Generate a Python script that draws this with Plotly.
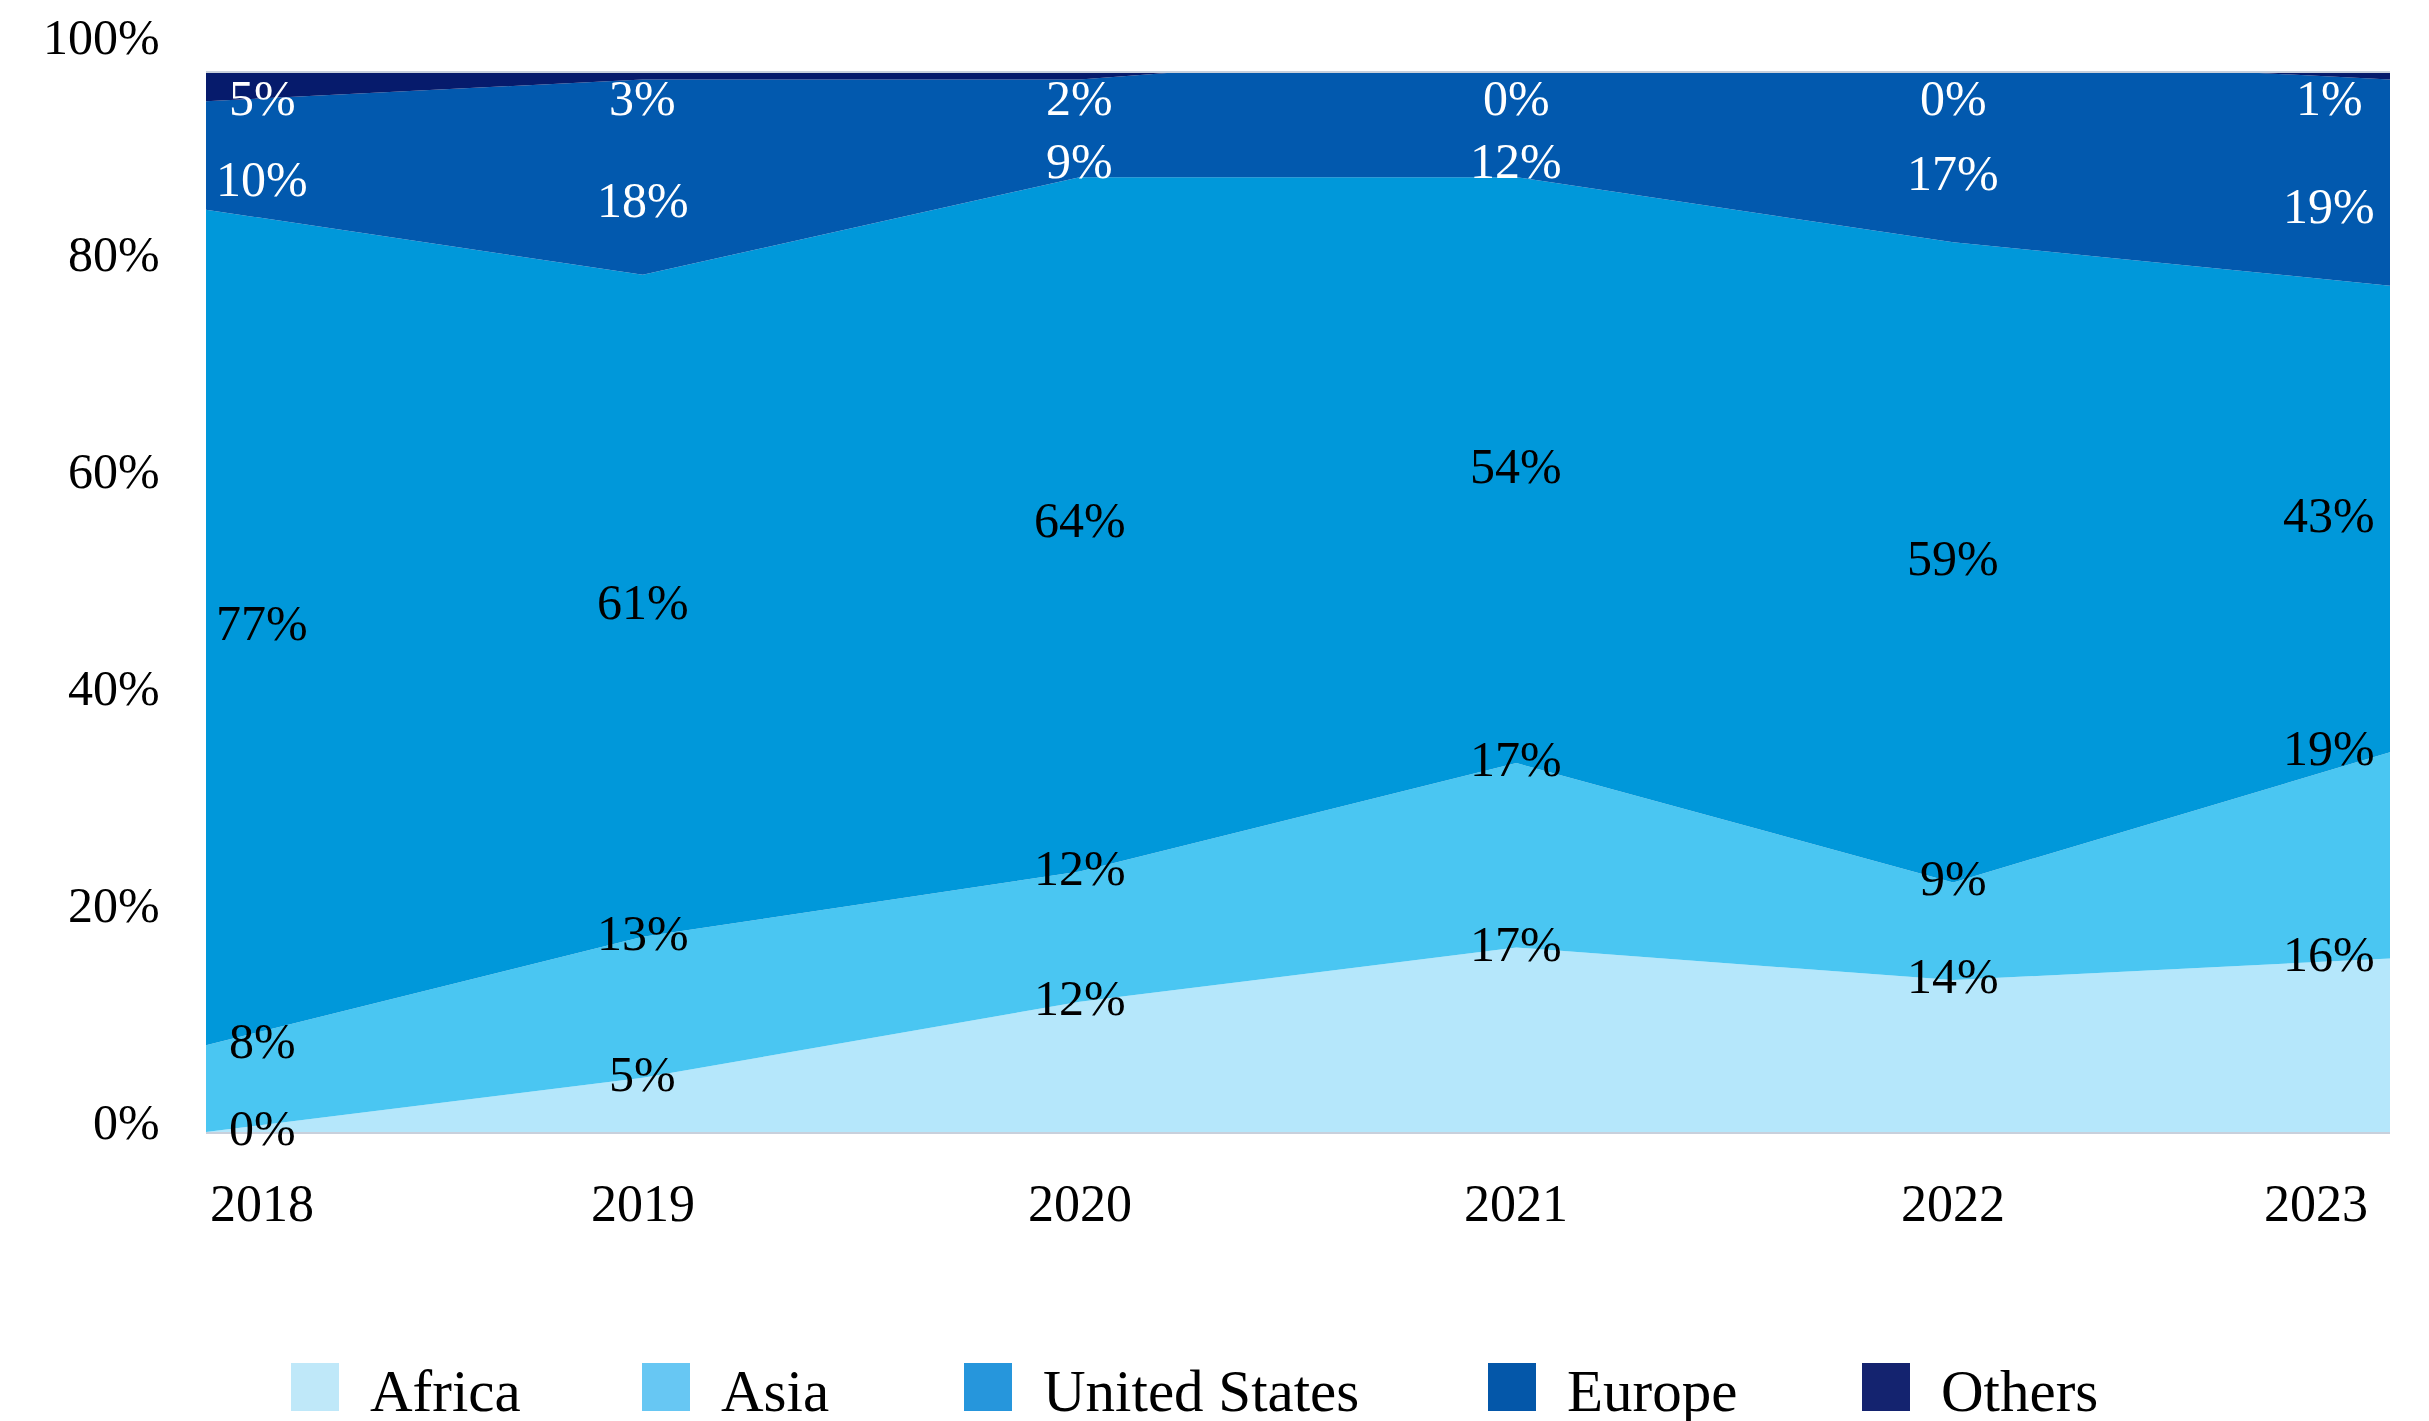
import plotly.graph_objects as go

# ---------------- data ----------------
years = ["2018", "2019", "2020", "2021", "2022", "2023"]
africa = [0, 5, 12, 17, 14, 16]
asia = [8, 13, 12, 17, 9, 19]
united_states = [77, 61, 64, 54, 59, 43]
europe = [10, 18, 9, 12, 17, 19]
others = [5, 3, 2, 0, 0, 1]

series_names = ["Africa", "Asia", "United States", "Europe", "Others"]
series_values = [africa, asia, united_states, europe, others]

y_ticks = [0, 20, 40, 60, 80, 100]
y_tick_labels = ["0%", "20%", "40%", "60%", "80%", "100%"]

# ---------------- styles ----------------
area_colors = ["#B5E7FB", "#4AC6F2", "#0098DA", "#0259AE", "#061B6C"]
legend_colors = ["#BFE8F9", "#67C7F3", "#2696DC", "#0457A9", "#14236F"]
label_colors = ["#000000", "#000000", "#000000", "#FFFFFF", "#FFFFFF"]
FONT = "Liberation Serif"

W, H = 2429, 1421
PL, PR, PT, PB = 206, 39, 73, 289
plot_w = W - PL - PR
plot_h = H - PT - PB
Y_MAX = 97.6


def px_x(px):
    return (px - PL) / plot_w


def px_y(py):
    return (H - PB - py) / plot_h


fig = go.Figure()
for name, vals, col in zip(series_names, series_values, area_colors):
    fig.add_trace(go.Scatter(
        x=years, y=vals, name=name, mode="lines",
        stackgroup="one", line=dict(width=0, color=col),
        fillcolor=col, showlegend=False, hoverinfo="skip",
    ))

annotations = []
n = len(years)
# data labels (x given as category index)
for j in range(n):
    cum = 0
    for i, vals in enumerate(series_values):
        bottom = cum
        cum += vals[j]
        mid = (bottom + cum) / 2
        if i < 2:
            yl = cum
        elif i == 2:
            yl = mid
        elif i == 3:
            yl = min(mid - 2.5, Y_MAX - 8.5)
        else:
            yl = min(mid, Y_MAX - 2.7)
        xs = 56 if j == 0 else (-61 if j == n - 1 else 0)
        annotations.append(dict(
            x=j, y=yl, xref="x", yref="y", text=f"{vals[j]}%",
            showarrow=False, xanchor="center", yanchor="middle",
            xshift=xs, yshift=4,
            font=dict(family=FONT, size=50, color=label_colors[i]),
        ))

# x tick labels
for j, yr in enumerate(years):
    xs = 56 if j == 0 else (-74 if j == n - 1 else 0)
    annotations.append(dict(
        x=j, y=0, xref="x", yref="paper", text=yr, showarrow=False,
        xanchor="center", yanchor="middle", xshift=xs, yshift=-71,
        font=dict(family=FONT, size=52, color="#000000"),
    ))

# y tick labels (positioned through the y scale)
for v, t in zip(y_ticks, y_tick_labels):
    annotations.append(dict(
        x=0, y=v / Y_MAX, xref="paper", yref="paper", text=t, showarrow=False,
        xanchor="right", yanchor="middle", xshift=-44, yshift=10,
        font=dict(family=FONT, size=50, color="#000000"),
    ))

# custom legend
legend_x_px = [291, 642, 964, 1488, 1862]
SW = 48
shapes = []
for name, col, lx in zip(series_names, legend_colors, legend_x_px):
    shapes.append(dict(
        type="rect", xref="paper", yref="paper",
        x0=px_x(lx), x1=px_x(lx + SW), y0=px_y(1411), y1=px_y(1363),
        fillcolor=col, line=dict(width=0),
    ))
    annotations.append(dict(
        x=px_x(lx + SW + 29), y=px_y(1391), xref="paper", yref="paper",
        text=name, showarrow=False, xanchor="left", yanchor="middle",
        font=dict(family=FONT, size=59, color="#000000"),
    ))

fig.update_layout(
    width=W, height=H,
    margin=dict(l=PL, r=PR, t=PT, b=PB, pad=0),
    paper_bgcolor="white", plot_bgcolor="white",
    font=dict(family=FONT, size=50, color="#000000"),
    xaxis=dict(type="category", range=[0, n - 1], showgrid=False,
               zeroline=False, showticklabels=False, ticks="",
               showline=True, mirror=True, linecolor="#C8D0DC", linewidth=2),
    yaxis=dict(range=[0, Y_MAX], showgrid=False, zeroline=False,
               showticklabels=False, ticks="", showline=False),
    annotations=annotations,
    shapes=shapes,
)

fig.write_html(
    "out.html",
    config={"displayModeBar": False},
    post_script="document.body.style.margin='0';document.body.style.overflow='hidden';",
)
